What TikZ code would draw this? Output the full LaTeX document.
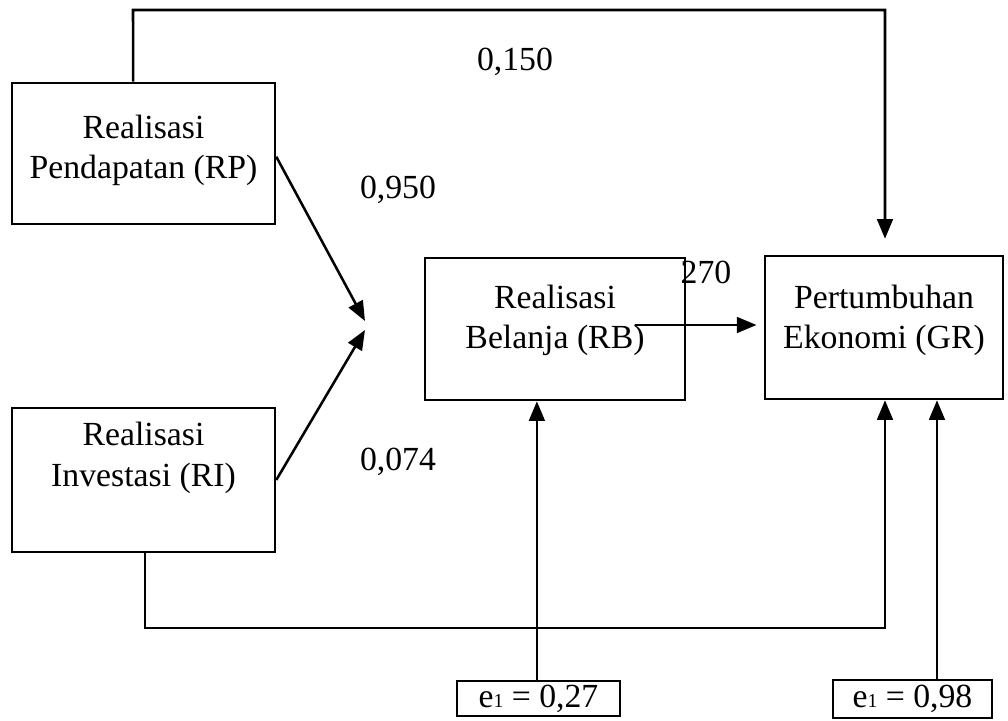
\documentclass[tikz,border=0pt]{standalone}
\usepackage{fontspec}
\setmainfont{Liberation Serif}
\usepackage{tikz}
\usetikzlibrary{arrows.meta,positioning,calc}

\begin{document}
\begin{tikzpicture}[x=0.0125cm, y=-0.0125cm, font=\fontsize{12}{14.3}\selectfont]
    \tikzstyle{block} = [rectangle, draw, line width=0.9pt, inner sep=0pt]
    \tikzstyle{errbox} = [rectangle, draw, line width=0.9pt, inner sep=0pt]
    \tikzstyle{line} = [draw, line width=0.9pt, -{Triangle[length=7pt, width=5.6pt]}]
    \useasboundingbox (0,0) rectangle (1008,721);

    % variabel
    \node [block, minimum width=263*0.0125cm, minimum height=141*0.0125cm,
           label={[align=center, yshift=0.04cm]center:{Realisasi\\Pendapatan (RP)}}] (rp) at (143.5,153.5) {};
    \node [block, minimum width=263*0.0125cm, minimum height=144*0.0125cm,
           label={[align=center, yshift=0.275cm]center:{Realisasi\\Investasi (RI)}}] (ri) at (143.5,480) {};
    \node [block, minimum width=260*0.0125cm, minimum height=142*0.0125cm,
           label={[align=center, yshift=0.11cm]center:{Realisasi\\Belanja (RB)}}] (rb) at (555,329) {};
    \node [block, minimum width=238*0.0125cm, minimum height=143*0.0125cm,
           label={[align=center, yshift=0.09cm]center:{Pertumbuhan\\Ekonomi (GR)}}] (gr) at (884,327.5) {};

    % error
    \node [errbox, minimum width=163*0.0125cm, minimum height=35*0.0125cm] (e1) at (538.5,698.5) {e{\scriptsize 1} = 0,27};
    \node [errbox, minimum width=159*0.0125cm, minimum height=38*0.0125cm] (e2) at (912.5,699) {e{\scriptsize 1} = 0,98};

    % koefisien
    \node (k1) at (515,62) {0,150};
    \node (k2) at (398,190) {0,950};
    \node (k3) at (398,462) {0,074};
    \node (k4) at (706,272) {270};

    \coordinate (tl) at (133,10);
    \coordinate (tr) at (885,10);
    \coordinate (mid1) at (365,321);
    \coordinate (mid2) at (365,330);
    \coordinate (rbin) at (635,325);
    \coordinate (bc) at (885,628);

    \path [line] ([xshift=-0.13cm]rp.north) -- (tl) -- (tr) -- ([yshift=0.2cm]tr |- gr.north);
    \path [line] ([yshift=-0.04cm]rp.east) -- (mid1);
    \path [line] (ri.east) -- (mid2);
    \path [line, shorten >=0.09cm] (rbin) -- (rbin -| gr.west);
    \path [line] ([xshift=0.02cm]ri.south) |- (bc) -- (bc |- gr.south);
    \path [line] ([xshift=-0.02cm]e1.north) -- ([xshift=-0.02cm]e1.north |- rb.south);
    \path [line] ([xshift=0.306cm]e2.north) -- ([xshift=0.306cm]e2.north |- gr.south);
\end{tikzpicture}
\end{document}
